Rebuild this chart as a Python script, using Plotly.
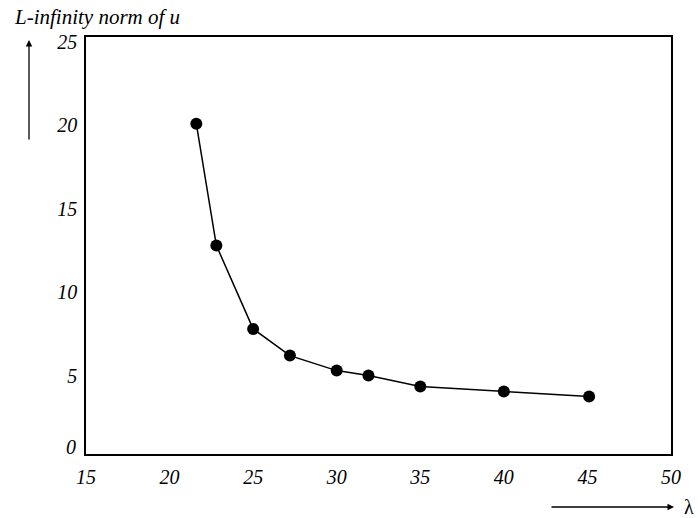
import plotly.graph_objects as go

lam = [21.6, 22.8, 25.0, 27.2, 30.0, 31.9, 35.0, 40.0, 45.1]
linf = [19.8, 12.5, 7.5, 5.9, 5.0, 4.7, 4.05, 3.75, 3.45]
xticks = [15, 20, 25, 30, 35, 40, 45, 50]
yticks = [0, 5, 10, 15, 20, 25]

font_tick = dict(family="Liberation Serif", size=20, color="black")

fig = go.Figure()
fig.add_trace(go.Scatter(
    x=lam, y=linf, mode="lines+markers",
    line=dict(color="black", width=1.5),
    marker=dict(color="black", size=12),
    showlegend=False,
))

axis_common = dict(
    showgrid=False, zeroline=False, showline=True, linecolor="black",
    linewidth=1.5, mirror=True, ticks="", tickfont=font_tick,
)
fig.update_xaxes(range=[15, 50], tickvals=xticks, ticklabelstandoff=4,
                 ticktext=[f"<i>{v}</i>" for v in xticks], **axis_common)
# the "0" label sits a little above the corner, drawn separately below
fig.update_yaxes(range=[0, 25], tickvals=yticks, ticklabelstandoff=3,
                 ticklabelshift=5,
                 ticktext=["" if v == 0 else f"<i>{v}</i>" for v in yticks],
                 **axis_common)

fig.update_layout(
    width=698, height=518,
    margin=dict(l=86, r=27, t=37, b=64),
    plot_bgcolor="white", paper_bgcolor="white",
    font=dict(family="Liberation Serif", color="black"),
)

fig.add_annotation(
    xref="paper", yref="y", x=0, y=yticks[0], xshift=-8, yshift=7,
    xanchor="right", yanchor="middle", showarrow=False,
    text=f"<i>{yticks[0]}</i>", font=font_tick,
)

# y axis label + arrow
fig.add_annotation(
    xref="paper", yref="paper", x=-0.127, y=1.0, yshift=20,
    xanchor="left", yanchor="middle", showarrow=False,
    text="<i>L-infinity norm of u</i>",
    font=dict(family="Liberation Serif", size=21, color="black"),
)
fig.add_annotation(
    xref="paper", yref="paper", x=(29 - 86) / 585, y=(454 - 40) / 417,
    ax=0, ay=101, axref="pixel", ayref="pixel",
    showarrow=True, arrowhead=2, arrowsize=1, arrowwidth=1.3,
    arrowcolor="black", text="",
)
# x axis arrow + lambda
fig.add_annotation(
    xref="paper", yref="paper", x=(674 - 86) / 585, y=(454 - 507) / 417,
    ax=-124, ay=0, axref="pixel", ayref="pixel",
    showarrow=True, arrowhead=2, arrowsize=1, arrowwidth=1.3,
    arrowcolor="black", text="",
)
fig.add_annotation(
    xref="paper", yref="paper", x=(689 - 86) / 585, y=(454 - 507) / 417,
    xanchor="center", yanchor="middle", showarrow=False,
    text="λ", font=dict(family="Liberation Serif", size=20, color="black"),
)

fig.write_html(
    "out.html",
    config={"displayModeBar": False},
    post_script="document.body.style.margin='0';document.body.style.overflow='hidden';",
)
